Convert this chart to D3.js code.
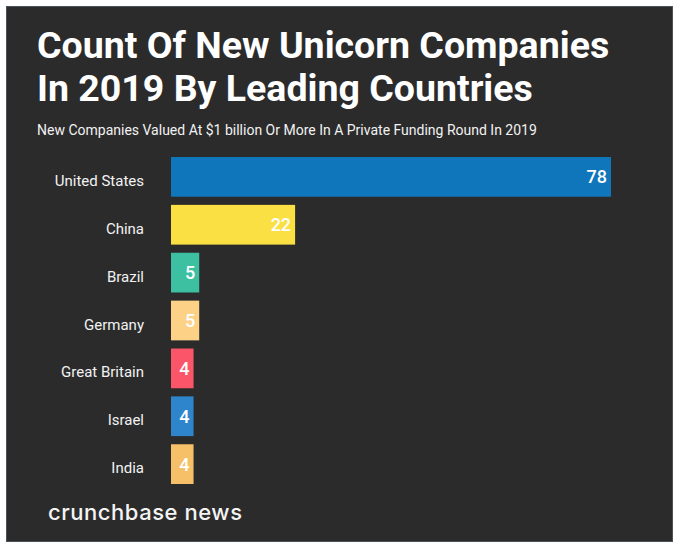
<!DOCTYPE html>
<html><head><meta charset="utf-8">
<script src="https://cdn.jsdelivr.net/npm/d3@7"></script>
<style>html,body{margin:0;padding:0;background:#fff}svg{display:block}text{font-family:Roboto,sans-serif}</style>
</head><body><svg id="c" width="683" height="550"></svg>
<script>
const titleLines = ["Count Of New Unicorn Companies", "In 2019 By Leading Countries"];
const subtitle = "New Companies Valued At $1 billion Or More In A Private Funding Round In 2019";
const countries = ["United States","China","Brazil","Germany","Great Britain","Israel","India"];
const counts = [78,22,5,5,4,4,4];
const colors = ["#1076bb","#fbe044","#3dbfa2","#fdd287","#fa5568","#2f85cb","#f6c069"];
const brand = "crunchbase news";

const svg = d3.select("#c");
svg.append("rect").attr("x",6.5).attr("y",6.5).attr("width",666).attr("height",535)
  .attr("fill","#2b2b2b").attr("stroke","#4b5158").attr("stroke-width",1);

svg.selectAll("text.t").data(titleLines).join("text").attr("class","t")
  .attr("x",37).attr("y",(d,i)=>[57.5,101][i]).attr("fill","#fff")
  .attr("font-size",37.5).attr("font-weight",700).text(d=>d);
svg.append("text").attr("x",37).attr("y",135).attr("fill","#f2f2f2")
  .attr("font-size",14).attr("font-weight",400).text(subtitle);

const x = d3.scaleLinear().domain([0,78]).range([171,611]);
const y = d3.scaleBand().domain(countries).range([157,484]).paddingInner(0.17).paddingOuter(0);

const yAxis = d3.axisLeft(y).tickSize(0).tickPadding(0);
const ag = svg.append("g").attr("transform","translate(144,0)").call(yAxis);
ag.select(".domain").remove();
ag.selectAll("text").attr("fill","#f2f2f2").attr("font-size",15).attr("font-family","Roboto").attr("dy","0.6em");

svg.selectAll("rect.b").data(countries).join("rect").attr("class","b")
  .attr("x",x(0)).attr("y",d=>y(d)).attr("height",y.bandwidth())
  .attr("width",(d,i)=>x(counts[i])-x(0)).attr("fill",(d,i)=>colors[i]);
svg.selectAll("text.v").data(countries).join("text").attr("class","v")
  .attr("x",(d,i)=>x(counts[i])-4).attr("y",d=>y(d)+y.bandwidth()/2).attr("dy","0.36em")
  .attr("text-anchor","end").attr("fill","#fff").attr("font-size",18).attr("font-weight",500)
  .text((d,i)=>counts[i]);

svg.append("text").attr("x",48).attr("y",520).attr("fill","#f4f4f4")
  .style("font-family","Inter").attr("font-size",22).attr("font-weight",500)
  .attr("textLength",194).attr("lengthAdjust","spacing").text(brand);
</script></body></html>
